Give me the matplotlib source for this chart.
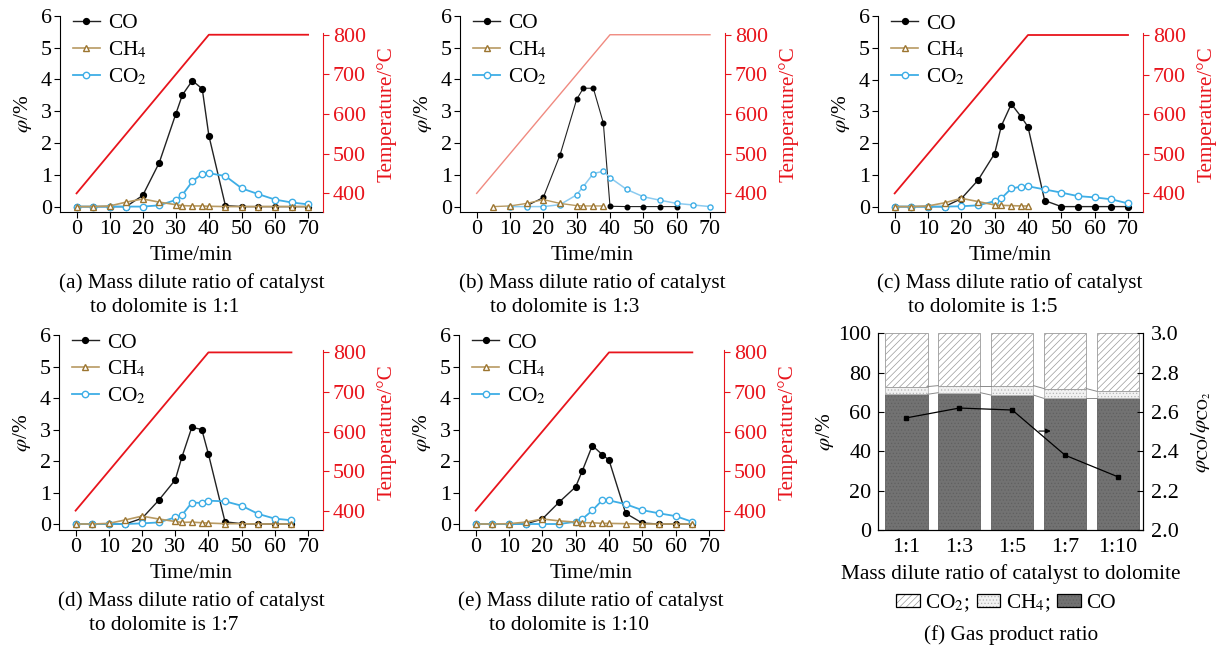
import matplotlib
matplotlib.use('Agg')
import matplotlib.pyplot as plt
from matplotlib.lines import Line2D
from matplotlib.patches import Patch

plt.rcParams['font.family'] = 'Liberation Serif'
plt.rcParams['mathtext.fontset'] = 'stix'
plt.rcParams['hatch.linewidth'] = 0.5

# ---- data ----
t_full = [0, 5, 10, 15, 20, 25, 30, 32, 35, 38, 40, 45, 50, 55, 60, 65, 70]
t_65 = [0, 5, 10, 15, 20, 25, 30, 32, 35, 38, 40, 45, 50, 55, 60, 65]

# (a) 1:1
co_a = [0, 0, 0, 0, 0.35, 1.38, 2.91, 3.51, 3.96, 3.70, 2.23, 0.03, 0, 0, 0, 0, 0]
ch4_a = [0, 0, 0.02, 0.14, 0.24, 0.14, 0.06, 0.03, 0.02, 0.02, 0.01, 0, 0, 0, 0, 0, 0]
co2_a = [0, 0, 0, 0, 0, 0.04, 0.21, 0.37, 0.79, 1.03, 1.05, 0.96, 0.57, 0.39, 0.22, 0.13, 0.07]

# (b) 1:3
t_co_b = [15, 20, 25, 30, 32, 35, 38, 40, 45, 50, 55, 60]
co_b = [0.02, 0.29, 1.62, 3.37, 3.72, 3.72, 2.63, 0.01, 0, 0, 0, 0]
t_ch4_b = [5, 10, 15, 20, 25, 30, 32, 35, 38]
ch4_b = [0, 0.02, 0.10, 0.22, 0.10, 0.03, 0.02, 0.02, 0.02]
t_co2_b = [10, 15, 20, 25, 30, 32, 35, 38, 40, 45, 50, 55, 60, 65, 70]
co2_b = [0, 0, 0, 0.06, 0.37, 0.63, 1.04, 1.11, 0.91, 0.54, 0.31, 0.20, 0.10, 0.05, 0]

# (c) 1:5
co_c = [0, 0, 0, 0, 0.25, 0.83, 1.67, 2.54, 3.23, 2.82, 2.51, 0.19, 0, 0, 0, 0, 0]
t_ch4_c = [0, 5, 10, 15, 20, 25, 30, 32, 35, 38, 40]
ch4_c = [0, 0, 0.02, 0.12, 0.26, 0.16, 0.05, 0.04, 0.03, 0.02, 0.02]
co2_c = [0, 0, 0, 0, 0.01, 0.04, 0.17, 0.26, 0.57, 0.63, 0.64, 0.54, 0.44, 0.33, 0.29, 0.23, 0.10]

# (d) 1:7
co_d = [0, 0, 0, 0, 0.18, 0.75, 1.40, 2.12, 3.07, 3.00, 2.22, 0.07, 0.01, 0, 0, 0]
ch4_d = [0, 0, 0.02, 0.13, 0.25, 0.16, 0.08, 0.05, 0.06, 0.04, 0.03, 0.01, 0.01, 0, 0, 0]
co2_d = [0, 0, 0, 0, 0.02, 0.05, 0.21, 0.28, 0.68, 0.67, 0.74, 0.72, 0.58, 0.32, 0.17, 0.12]

# (e) 1:10
co_e = [0, 0, 0, 0, 0.16, 0.69, 1.18, 1.69, 2.49, 2.20, 2.03, 0.34, 0.03, 0, 0, 0]
ch4_e = [0, 0, 0.01, 0.06, 0.16, 0.10, 0.06, 0.04, 0.04, 0.02, 0.02, 0.01, 0, 0, 0, 0]
co2_e = [0, 0, 0, 0, 0, 0, 0.07, 0.16, 0.43, 0.76, 0.75, 0.63, 0.44, 0.34, 0.25, 0.07]

# temperature programme
temp_t70 = [0, 40, 70]
temp_t65 = [0, 40, 65]
temp_v = [400, 800, 800]

# (f) gas product ratio
ratios = ['1:1', '1:3', '1:5', '1:7', '1:10']
co_pct = [69.0, 69.8, 68.6, 66.9, 66.9]
ch4_pct = [3.9, 3.6, 4.8, 5.0, 3.6]
co2_pct = [27.1, 26.6, 26.6, 28.1, 29.5]
co_co2 = [2.57, 2.62, 2.61, 2.38, 2.27]

RED = '#e8141c'
BLUE = '#3eaee6'
BROWN = '#9c7530'
FS = 15.3
TFS = 15.8

W, H = 1218, 651
fig = plt.figure(figsize=(W / 100, H / 100), dpi=100)


def rect(l, r, t, b):
    return [l / W, 1 - b / H, (r - l) / W, (b - t) / H]


def line_panel(box, co_xy, ch4_xy, co2_xy, temp_t, tlim, cap, faded=False):
    ax = fig.add_axes(rect(*box))
    ms = 3.3 if faded else 4.2
    lw = 0.8 if faded else 1.0
    blue = '#8ccbf0' if faded else BLUE
    ax.plot(*co_xy, color='#222222', lw=lw, marker='o', ms=ms, mfc='black', mec='black', zorder=3)
    ax.plot(*co2_xy, color=blue, lw=lw + 0.3, marker='o', ms=ms + 0.4, mfc='white', mec=BLUE,
            mew=1.0, zorder=4)
    ax.plot(*ch4_xy, color='#b89a62', lw=lw + 0.2, marker='^', ms=ms + 0.6, mfc='white', mec=BROWN,
            mew=1.0, zorder=5)
    ax.set_xlim(-5, 74.5)
    ax.set_ylim(tlim[0], 6)
    ax.set_xticks(range(0, 71, 10))
    ax.set_yticks(range(0, 7))
    for s in ['top', 'right']:
        ax.spines[s].set_visible(False)
    ax.tick_params(direction='out', length=4, width=0.8, labelsize=TFS, pad=2)
    ax.set_xlabel('Time/min', fontsize=FS, labelpad=5)
    ax.set_ylabel(r'$\varphi$/%', fontsize=FS, labelpad=5)

    ax2 = ax.twinx()
    ax2.plot(temp_t, temp_v, color='#f08a80' if faded else RED, lw=1.0 if faded else 1.3)
    ax2.set_ylim(tlim[1], tlim[2])
    ax2.set_yticks([400, 500, 600, 700, 800])
    for s in ['top', 'left', 'bottom']:
        ax2.spines[s].set_visible(False)
    ax2.spines['right'].set_color(RED)
    ax2.spines['right'].set_bounds(tlim[1], 805)
    ax2.tick_params(direction='out', length=4, width=0.8, labelsize=TFS, pad=3,
                    colors=RED)
    ax2.set_ylabel('Temperature/°C', fontsize=FS, color=RED, labelpad=8)

    handles = [
        Line2D([], [], color='#222222', lw=1, marker='o', ms=4.2, mfc='black', mec='black', markevery=[0]),
        Line2D([], [], color='#b89a62', lw=1.2, marker='^', ms=4.8, mfc='white', mec=BROWN, markevery=[0]),
        Line2D([], [], color=BLUE, lw=1.3, marker='o', ms=4.6, mfc='white', mec=BLUE, markevery=[0]),
    ]
    ax2.legend(handles, ['CO', 'CH$_4$', 'CO$_2$'], loc='upper left',
               bbox_to_anchor=(0.05, 1.012), frameon=False, fontsize=FS, borderpad=0,
               borderaxespad=0, handlelength=1.25, handletextpad=0.4, labelspacing=0.3,
               numpoints=1)

    l, t = box[0], box[3]
    fig.text((l - 1) / W, 1 - (t + 71) / H, cap[0], fontsize=FS, ha='left', va='center')
    fig.text((l + 30) / W, 1 - (t + 95) / H, cap[1], fontsize=FS, ha='left', va='center')
    return ax


top = (-0.17, 353, 848)
bot = (-0.19, 351, 844)
line_panel((60, 323, 15.7, 212), (t_full, co_a), (t_full, ch4_a), (t_full, co2_a), temp_t70, top,
           ('(a) Mass dilute ratio of catalyst', 'to dolomite is 1:1'))
line_panel((460, 725, 15.7, 212), (t_co_b, co_b), (t_ch4_b, ch4_b), (t_co2_b, co2_b), temp_t70, top,
           ('(b) Mass dilute ratio of catalyst', 'to dolomite is 1:3'), faded=True)
line_panel((878, 1143, 16, 212), (t_full, co_c), (t_ch4_c, ch4_c), (t_full, co2_c), temp_t70, top,
           ('(c) Mass dilute ratio of catalyst', 'to dolomite is 1:5'))
line_panel((59, 323, 335, 530), (t_65, co_d), (t_65, ch4_d), (t_65, co2_d), temp_t65, bot,
           ('(d) Mass dilute ratio of catalyst', 'to dolomite is 1:7'))
line_panel((459, 724, 335, 530), (t_65, co_e), (t_65, ch4_e), (t_65, co2_e), temp_t65, bot,
           ('(e) Mass dilute ratio of catalyst', 'to dolomite is 1:10'))

# ---- (f) stacked bars ----
axf = fig.add_axes(rect(878.3, 1143, 333.3, 530))
x = list(range(len(ratios)))
bw = 0.8
axf.bar(x, co_pct, bw, color='#727272', edgecolor='#606060', hatch='.....', lw=0.6)
ch4_bottom = co_pct
axf.bar(x, ch4_pct, bw, bottom=ch4_bottom, color='#f2f2f2', edgecolor='#b5b5b5', hatch='.....', lw=0.6)
co2_bottom = [a + b for a, b in zip(co_pct, ch4_pct)]
axf.bar(x, co2_pct, bw, bottom=co2_bottom, color='white', edgecolor='#9a9a9a', hatch='/////', lw=0.6)
for i in range(len(x) - 1):
    for lev in (co_pct, co2_bottom):
        axf.plot([i + bw / 2, i + 1 - bw / 2], [lev[i], lev[i + 1]], color='#8a8a8a', lw=0.7)
axf.set_xlim(-0.53, 4.47)
axf.set_ylim(0, 100)
axf.set_yticks(range(0, 101, 20))
axf.set_xticks(x)
axf.set_xticklabels(ratios)
axf.spines['top'].set_visible(False)
axf.tick_params(axis='y', direction='in', length=4, width=0.8, labelsize=TFS, pad=5)
axf.tick_params(axis='x', length=0, labelsize=TFS, pad=6)
axf.set_xlabel('Mass dilute ratio of catalyst to dolomite', fontsize=FS, labelpad=5)
axf.set_ylabel(r'$\varphi$/%', fontsize=FS, labelpad=2)

axr = axf.twinx()
axr.plot(x, co_co2, color='black', lw=0.9, marker='s', ms=3.5)
axr.set_ylim(2.0, 3.0)
axr.set_yticks([2.0, 2.2, 2.4, 2.6, 2.8, 3.0])
axr.set_yticklabels(['%.1f' % v for v in [2.0, 2.2, 2.4, 2.6, 2.8, 3.0]])
axr.spines['top'].set_visible(False)
axr.tick_params(direction='in', length=4, width=0.8, labelsize=TFS, pad=6)
axr.set_ylabel(r'$\varphi_{\rm CO}/\varphi_{{\rm CO}_2}$', fontsize=FS, labelpad=7)
axr.annotate('', xy=(2.78, 2.503), xytext=(2.45, 2.503),
             arrowprops=dict(arrowstyle='-|>', color='black', lw=0.8, mutation_scale=7))

leg_h = [
    (Patch(facecolor='white', edgecolor='#9a9a9a', hatch='/////', lw=0),
     Patch(facecolor='none', edgecolor='black', lw=0.9)),
    (Patch(facecolor='#f2f2f2', edgecolor='#b5b5b5', hatch='.....', lw=0),
     Patch(facecolor='none', edgecolor='black', lw=0.9)),
    (Patch(facecolor='#727272', edgecolor='#606060', hatch='.....', lw=0),
     Patch(facecolor='none', edgecolor='black', lw=0.9)),
]
fig.legend(leg_h, ['CO$_2$;', 'CH$_4$;', 'CO'], loc='center', bbox_to_anchor=(1006 / W, 1 - 603 / H),
           ncol=3, frameon=False, fontsize=FS, handlelength=1.1, handleheight=0.6,
           columnspacing=0.35, handletextpad=0.25, borderpad=0)
fig.text(1011 / W, 1 - 635 / H, '(f) Gas product ratio', fontsize=FS, ha='center', va='center')

fig.savefig('out.png', dpi=100)
